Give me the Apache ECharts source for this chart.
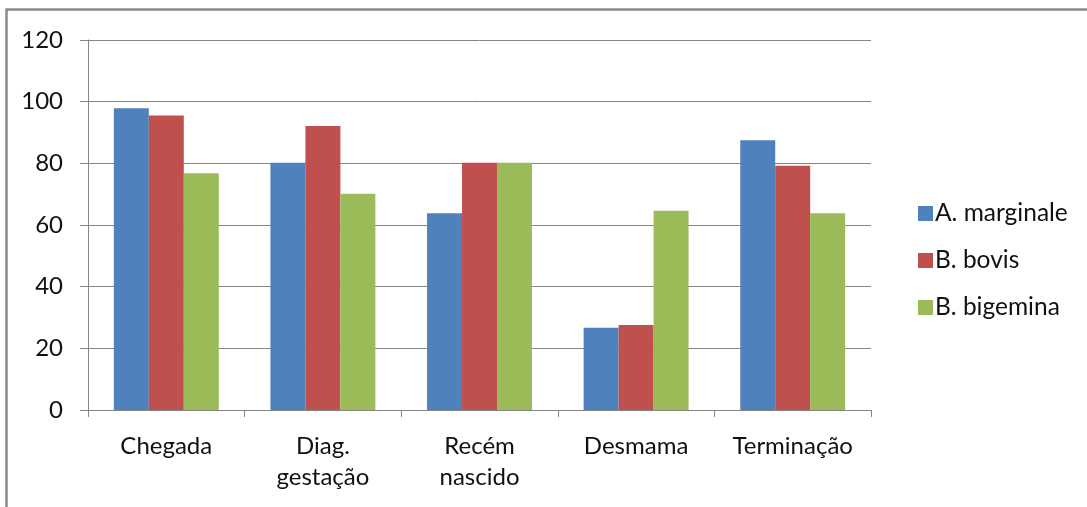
<!DOCTYPE html>
<html>
<head>
<meta charset="utf-8">
<script src="https://cdn.jsdelivr.net/npm/echarts@6/dist/echarts.min.js"></script>
<style>
html,body{margin:0;padding:0;background:#fff;}
#chart{width:1087px;height:507px;}
</style>
</head>
<body>
<div id="chart"></div>
<script>
var categories = ['Chegada', 'Diag.\ngestação', 'Recém\nnascido', 'Desmama', 'Terminação'];
var seriesNames = ['A. marginale', 'B. bovis', 'B. bigemina'];
var aMarginale = [97.9, 80.2, 63.8, 26.7, 87.5];
var bBovis = [95.5, 92.1, 80.2, 27.6, 79.2];
var bBigemina = [76.8, 70.1, 80.2, 64.6, 63.8];
var yTicks = [0, 20, 40, 60, 80, 100, 120];

var colors = ['#4F81BD', '#C0504D', '#9BBB59'];
var font = 'Lato, "Open Sans", sans-serif';
var chart = echarts.init(document.getElementById('chart'), null, {renderer: 'canvas'});
var dataSets = [aMarginale, bBovis, bBigemina];

chart.setOption({
  animation: false,
  backgroundColor: '#fff',
  textStyle: {fontFamily: font},
  graphic: [{
    type: 'rect',
    shape: {x: 6.5, y: 9.5, width: 1200, height: 600},
    style: {fill: 'none', stroke: '#8a8a8a', lineWidth: 2.5},
    silent: true
  }],
  grid: {left: 88, right: 216, top: 40, bottom: 97, containLabel: false},
  legend: {
    orient: 'vertical',
    left: 913,
    top: 196,
    itemWidth: 15,
    itemHeight: 15,
    itemGap: 22,
    icon: 'rect',
    data: seriesNames,
    textStyle: {fontFamily: font, fontSize: 24.5, color: '#111', padding: [0, 0, 0, -3]}
  },
  xAxis: {
    type: 'category',
    data: categories,
    axisLine: {show: true, lineStyle: {color: '#868686', width: 1}},
    axisTick: {show: true, length: 7, lineStyle: {color: '#868686'}},
    axisLabel: {fontFamily: font, fontSize: 24, color: '#111', margin: 21, lineHeight: 31, interval: 0}
  },
  yAxis: {
    type: 'value',
    min: yTicks[0],
    max: yTicks[yTicks.length - 1],
    interval: 20,
    axisLine: {show: true, lineStyle: {color: '#868686', width: 1}},
    axisTick: {show: true, length: 8, lineStyle: {color: '#868686'}},
    splitLine: {show: true, lineStyle: {color: '#868686', width: 1}},
    axisLabel: {fontFamily: font, fontSize: 24, color: '#111', margin: 25}
  },
  series: seriesNames.map(function (name, i) {
    return {
      name: name,
      type: 'bar',
      data: dataSets[i],
      barGap: '0%',
      barCategoryGap: '33%',
      itemStyle: {color: colors[i]}
    };
  })
});
</script>
</body>
</html>
